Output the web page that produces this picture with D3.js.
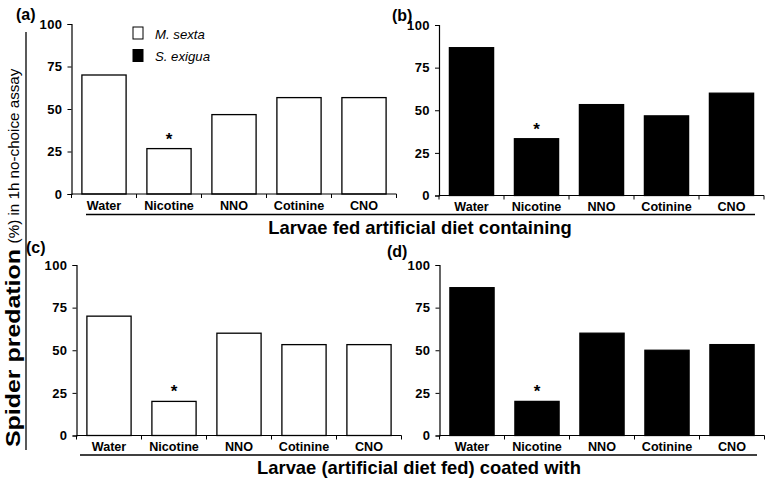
<!DOCTYPE html>
<html><head><meta charset="utf-8">
<script src="https://cdn.jsdelivr.net/npm/d3@7"></script>
<style>
body{margin:0;background:#fff;}
svg text{font-family:"Liberation Sans",Arial,sans-serif;}
</style></head>
<body><svg id="c" width="770" height="481"></svg>
<script>
const categories = ["Water","Nicotine","NNO","Cotinine","CNO"];
const yTicks = [0,25,50,75,100];
const valuesA = [70, 26.7, 46.7, 56.7, 56.7];   // M. sexta, diet
const valuesB = [86.7, 33.3, 53.3, 46.7, 60];   // S. exigua, diet
const valuesC = [70, 20, 60, 53.3, 53.3];       // M. sexta, coated
const valuesD = [86.7, 20, 60, 50, 53.3];       // S. exigua, coated
const significant = ["Nicotine"];
const legendLabels = ["M. sexta","S. exigua"];
const panelLabels = ["(a)","(b)","(c)","(d)"];
const groupTitles = ["Larvae fed artificial diet containing","Larvae (artificial diet fed) coated with"];
const yTitleBold = "Spider predation";
const yTitleRest = "(%) in 1h no-choice assay";

const svg = d3.select("#c");

function panel(cfg){
  const x = d3.scaleBand().domain(categories).range([cfg.x0, cfg.x0+cfg.w]).paddingInner(0.32).paddingOuter(0.16);
  const y = d3.scaleLinear().domain([0,100]).range([cfg.yb, cfg.yt]);
  const g = svg.append("g");
  g.selectAll("rect.bar").data(cfg.values).enter().append("rect")
    .attr("x",(d,i)=>x(categories[i])).attr("width",x.bandwidth())
    .attr("y",d=>y(d)).attr("height",d=>y(0)-y(d))
    .attr("fill",cfg.fill).attr("stroke","#000").attr("stroke-width",1.3);
  const ya = g.append("g").attr("transform",`translate(${cfg.x0},0)`)
    .call(d3.axisLeft(y).tickValues(yTicks).tickSize(4).tickPadding(5));
  ya.select(".domain").attr("stroke-width",1.2);
  ya.selectAll("text").attr("font-size",13).attr("letter-spacing",0.4).attr("font-weight","bold").attr("fill","#000");
  const xa = g.append("g").attr("transform",`translate(0,${cfg.yb})`)
    .call(d3.axisBottom(x).tickSize(0).tickPadding(7).tickSizeOuter(0));
  xa.select(".domain").remove();
  xa.selectAll("text").attr("font-size",12.6).attr("font-weight","bold").attr("fill","#000");
  const step = x.step();
  const bounds = d3.range(categories.length+1).map(i=>cfg.x0+i*step);
  g.append("line").attr("x1",cfg.x0).attr("x2",cfg.x0+cfg.w).attr("y1",y(0)).attr("y2",y(0)).attr("stroke","#000").attr("stroke-width",1.2);
  g.selectAll("line.bt").data(bounds).enter().append("line")
    .attr("x1",d=>d).attr("x2",d=>d).attr("y1",y(0)).attr("y2",y(0)+4).attr("stroke","#000").attr("stroke-width",1);
  categories.forEach((c,i)=>{
    if(significant.includes(c)){
      g.append("text").attr("x",x(c)+x.bandwidth()/2).attr("y",y(cfg.values[i])-4)
        .attr("text-anchor","middle").attr("font-size",17).attr("font-weight","bold").text("*");
    }
  });
  svg.append("text").attr("x",cfg.lx).attr("y",cfg.ly).attr("font-size",16).attr("font-weight","bold").text(cfg.label);
}

panel({x0:71.5,w:325,yt:24,yb:194,values:valuesA,fill:"#fff",label:panelLabels[0],lx:16,ly:20});
panel({x0:439,w:325,yt:25,yb:195.5,values:valuesB,fill:"#000",label:panelLabels[1],lx:392,ly:21});
panel({x0:76.5,w:325,yt:265,yb:435.5,values:valuesC,fill:"#fff",label:panelLabels[2],lx:26,ly:253});
panel({x0:439.5,w:325,yt:265,yb:435.5,values:valuesD,fill:"#000",label:panelLabels[3],lx:387,ly:257});

svg.append("line").attr("x1",86).attr("x2",755).attr("y1",214.5).attr("y2",214.5).attr("stroke","#000").attr("stroke-width",1.3);
svg.append("text").attr("x",420).attr("y",234).attr("text-anchor","middle").attr("font-size",18.4).attr("font-weight","bold").text(groupTitles[0]);
svg.append("line").attr("x1",80).attr("x2",757).attr("y1",455).attr("y2",455).attr("stroke","#000").attr("stroke-width",1.3);
svg.append("text").attr("x",419).attr("y",474).attr("text-anchor","middle").attr("font-size",18.4).attr("font-weight","bold").text(groupTitles[1]);

// y title
svg.append("line").attr("x1",26).attr("x2",26).attr("y1",32).attr("y2",450).attr("stroke","#000").attr("stroke-width",1.3);
svg.append("text").attr("transform","translate(20,348) rotate(-90)").attr("text-anchor","middle")
  .attr("font-size",21).attr("font-weight","bold").attr("textLength",198).attr("lengthAdjust","spacingAndGlyphs").text(yTitleBold);
svg.append("text").attr("transform","translate(19,156) rotate(-90)").attr("text-anchor","middle")
  .attr("font-size",15.2).text(yTitleRest);

const lg = svg.append("g");
legendLabels.forEach((l,i)=>{
  lg.append("rect").attr("x",133).attr("y",27+i*22.5).attr("width",10).attr("height",12)
    .attr("fill",i===0?"#fff":"#000").attr("stroke","#000").attr("stroke-width",1);
  lg.append("text").attr("x",155).attr("y",38.5+i*22.5).attr("font-size",13.2).attr("font-style","italic").text(l);
});
</script></body></html>
